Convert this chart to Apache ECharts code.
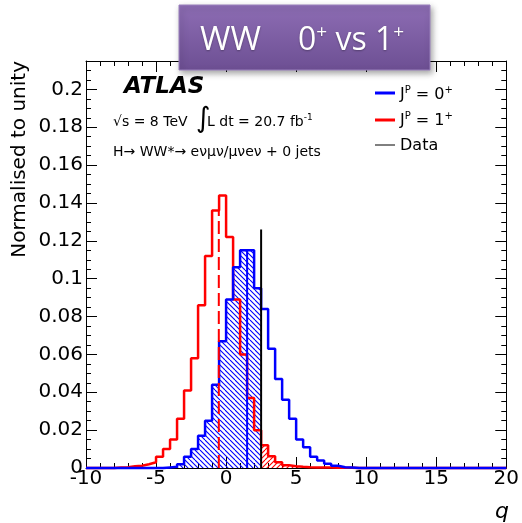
<!DOCTYPE html>
<html><head><meta charset="utf-8">
<script src="https://cdn.jsdelivr.net/npm/echarts@6/dist/echarts.min.js"></script>
<style>html,body{margin:0;padding:0;background:#fff}#c{width:522px;height:523px}</style>
</head><body><div id="c"></div>
<script>
// ---- data ----
const binStart = -10, binWidth = 0.5;               // 60 bins from -10 to 20
const spin0Plus = [ // J^P = 0+ (normalised)
  0,0,0,0,0,0,0,0,0,0,
  0,0.0003,0.0006,0.002,0.006,0.010,0.017,0.025,0.044,0.067,
  0.089,0.106,0.115,0.115,0.095,0.084,0.063,0.047,0.036,0.026,
  0.015,0.011,0.006,0.004,0.0023,0.0012,0.0004,0.0003,0,0,
  0,0,0,0,0,0,0,0,0,0,
  0,0,0,0,0,0,0,0,0,0];
const spin1Plus = [ // J^P = 1+ (normalised)
  0,0,0,0,0.0002,0.0004,0.0009,0.0012,0.002,0.003,
  0.006,0.010,0.015,0.026,0.041,0.058,0.086,0.112,0.136,0.144,
  0.122,0.089,0.060,0.037,0.020,0.012,0.0062,0.003,0.0014,0.0009,
  0.0006,0.0004,0.0003,0.0002,0.0002,0.0001,0.0001,0.0001,0,0,
  0,0,0,0,0,0,0,0,0,0,
  0,0,0,0,0,0,0,0,0,0];
const dataQ = 2.5, dataHeight = 0.126;
const median0Plus = {q: 1.5, h: 0.115};
const median1Plus = {q: -0.52, h: 0.136};
const xRange = [-10, 20], xStep = 5;
const yRange = [0, 0.215], yStep = 0.02;

// ---- helpers ----
function stepPoints(values, from, to) {
  const pts = [];
  for (let i = from; i < to; i++) pts.push([binStart + i * binWidth, values[i]]);
  pts.push([binStart + to * binWidth, values[to - 1]]);
  return pts;
}
function hatch(color, dir) {
  const s = 10, c = document.createElement('canvas');
  c.width = s; c.height = s;
  const ctx = c.getContext('2d');
  ctx.strokeStyle = color; ctx.lineWidth = 1.1;
  ctx.beginPath();
  for (let k = -3; k <= 3; k++) {
    const o = k * 5;
    if (dir === 'back') { ctx.moveTo(o, 0); ctx.lineTo(o + s, s); }
    else { ctx.moveTo(o, s); ctx.lineTo(o + s, 0); }
  }
  ctx.stroke();
  return c;
}
const cutBin = Math.round((dataQ - binStart) / binWidth);
const lastRed = spin1Plus.length - spin1Plus.slice().reverse().findIndex(v => v > 0);

const chart = echarts.init(document.getElementById('c'), null, {renderer: 'canvas'});
const black = '#000';
const tickFont = 'DejaVu Sans';
function xAx(pos, labels) {
  return {type: 'value', position: pos, min: xRange[0], max: xRange[1], interval: xStep,
    axisLine: {onZero: false, lineStyle: {color: black, width: 1}},
    axisTick: {inside: true, length: 11, lineStyle: {color: black}},
    minorTick: {show: true, splitNumber: 5, length: 5, lineStyle: {color: black}},
    splitLine: {show: false},
    axisLabel: {show: labels, color: black, fontFamily: tickFont, fontSize: 20, margin: 1}};
}
function yAx(pos, labels) {
  return {type: 'value', position: pos, min: yRange[0], max: yRange[1], interval: yStep,
    axisLine: {onZero: false, lineStyle: {color: black, width: 1}},
    axisTick: {inside: true, length: 11, lineStyle: {color: black}},
    minorTick: {show: true, splitNumber: 4, length: 5, lineStyle: {color: black}},
    splitLine: {show: false},
    axisLabel: {show: labels, color: black, fontFamily: tickFont, fontSize: 20, margin: 3, showMaxLabel: false,
      formatter: v => {
        const r = v / yStep;
        if (Math.abs(r - Math.round(r)) > 1e-6) return '';
        return String(+v.toFixed(3));
      }}};
}
const supRich = {
  sup: {fontSize: 10, fontFamily: tickFont, fill: black, lineHeight: 12, verticalAlign: 'top'}
};
chart.setOption({
  animation: false,
  backgroundColor: '#fff',
  grid: {left: 86, right: 12, top: 61, bottom: 55},
  xAxis: [xAx('bottom', true), xAx('top', false)],
  yAxis: [yAx('left', true), yAx('right', false)],
  series: [
    {type: 'line', step: 'end', data: stepPoints(spin0Plus, 0, cutBin), symbol: 'none', silent: true,
      lineStyle: {width: 0}, areaStyle: {color: {image: hatch('#0000ff', 'back'), repeat: 'repeat'}, opacity: 1}},
    {type: 'line', step: 'end', data: stepPoints(spin1Plus, cutBin, lastRed), symbol: 'none', silent: true,
      lineStyle: {width: 0}, areaStyle: {color: {image: hatch('#ff0000', 'fwd'), repeat: 'repeat'}, opacity: 1}},
    {type: 'line', step: 'end', data: stepPoints(spin1Plus, 0, spin1Plus.length), symbol: 'none', clip: false,
      lineStyle: {color: '#ff0000', width: 2.5}},
    {type: 'line', step: 'end', data: stepPoints(spin0Plus, 0, spin0Plus.length), symbol: 'none', clip: false,
      lineStyle: {color: '#0000ff', width: 2.5}},
    {type: 'line', data: [[median1Plus.q, 0], [median1Plus.q, median1Plus.h]], symbol: 'none',
      lineStyle: {color: '#ff0000', width: 2, type: [13, 5]}},
    {type: 'line', data: [[median0Plus.q, 0], [median0Plus.q, median0Plus.h]], symbol: 'none',
      lineStyle: {color: '#0000ff', width: 2}},
    {type: 'line', data: [[dataQ, 0], [dataQ, dataHeight]], symbol: 'none',
      lineStyle: {color: black, width: 2}}
  ],
  graphic: [
    {type: 'text', x: 20, y: 61, rotation: Math.PI / 2,
      style: {text: 'Normalised to unity', fontFamily: tickFont, fontSize: 20, fill: black, align: 'right', verticalAlign: 'middle'}},
    {type: 'text', x: 502, y: 512,
      style: {text: 'q', fontFamily: tickFont, fontSize: 22, fontStyle: 'italic', fill: black, align: 'center', verticalAlign: 'middle'}},
    {type: 'text', x: 124, y: 87,
      style: {text: 'ATLAS', fontFamily: tickFont, fontSize: 23, fontWeight: 'bold', fontStyle: 'italic', fill: black, align: 'left', verticalAlign: 'middle'}},
    {type: 'text', x: 113, y: 122,
      style: {text: '√s = 8 TeV', fontFamily: tickFont, fontSize: 14, fill: black, align: 'left', verticalAlign: 'middle'}},
    {type: 'text', x: 196, y: 120,
      style: {text: '∫', fontFamily: tickFont, fontSize: 28, fill: black, align: 'left', verticalAlign: 'middle'}},
    {type: 'text', x: 207, y: 122,
      style: {text: 'L dt = 20.7 fb{sup|-1}', fontFamily: tickFont, fontSize: 14, fill: black, align: 'left', verticalAlign: 'middle', lineHeight: 18,
        rich: {sup: {fontSize: 9, fontFamily: tickFont, fill: black, lineHeight: 10, verticalAlign: 'top'}}}},
    {type: 'text', x: 113, y: 152,
      style: {text: 'H→ WW*→ eνμν/μνeν + 0 jets', fontFamily: tickFont, fontSize: 14, fill: black, align: 'left', verticalAlign: 'middle'}},
    // legend
    {type: 'line', shape: {x1: 375, y1: 93, x2: 395, y2: 93}, style: {stroke: '#0000ff', lineWidth: 3}},
    {type: 'text', x: 400, y: 95,
      style: {text: 'J{sup|P} = 0{sup|+}', fontFamily: tickFont, fontSize: 16, fill: black, align: 'left', verticalAlign: 'middle', lineHeight: 20, rich: supRich}},
    {type: 'line', shape: {x1: 375, y1: 120, x2: 395, y2: 120}, style: {stroke: '#ff0000', lineWidth: 3}},
    {type: 'text', x: 400, y: 121,
      style: {text: 'J{sup|P} = 1{sup|+}', fontFamily: tickFont, fontSize: 16, fill: black, align: 'left', verticalAlign: 'middle', lineHeight: 20, rich: supRich}},
    {type: 'line', shape: {x1: 375, y1: 145, x2: 395, y2: 145}, style: {stroke: black, lineWidth: 1}},
    {type: 'text', x: 400, y: 146,
      style: {text: 'Data', fontFamily: tickFont, fontSize: 16, fill: black, align: 'left', verticalAlign: 'middle'}},
    // title box
    {type: 'rect', z: 100, shape: {x: 179, y: 5, width: 251, height: 65},
      style: {fill: new echarts.graphic.LinearGradient(0, 0, 0, 1, [{offset: 0, color: '#8d6db4'}, {offset: 1, color: '#6d4f93'}]),
        stroke: '#9a80bd', lineWidth: 1, shadowBlur: 6, shadowOffsetX: 2, shadowOffsetY: 3, shadowColor: 'rgba(0,0,0,0.35)'}},
    {type: 'text', z: 101, x: 200, y: 41,
      style: {text: 'WW', fontFamily: 'Open Sans', fontSize: 33, fill: '#fff', align: 'left', verticalAlign: 'middle',
        textShadowColor: 'rgba(0,0,0,0.3)', textShadowBlur: 2, textShadowOffsetY: 1}},
    {type: 'text', z: 101, x: 298, y: 41,
      style: {text: '0{s|+} vs 1{s|+}', fontFamily: 'Open Sans', fontSize: 32, fill: '#fff', align: 'left', verticalAlign: 'middle', lineHeight: 36,
        textShadowColor: 'rgba(0,0,0,0.3)', textShadowBlur: 2, textShadowOffsetY: 1,
        rich: {s: {fontFamily: 'Open Sans', fontSize: 19, fill: '#fff', lineHeight: 22, verticalAlign: 'top'}}}}
  ]
});
</script></body></html>
